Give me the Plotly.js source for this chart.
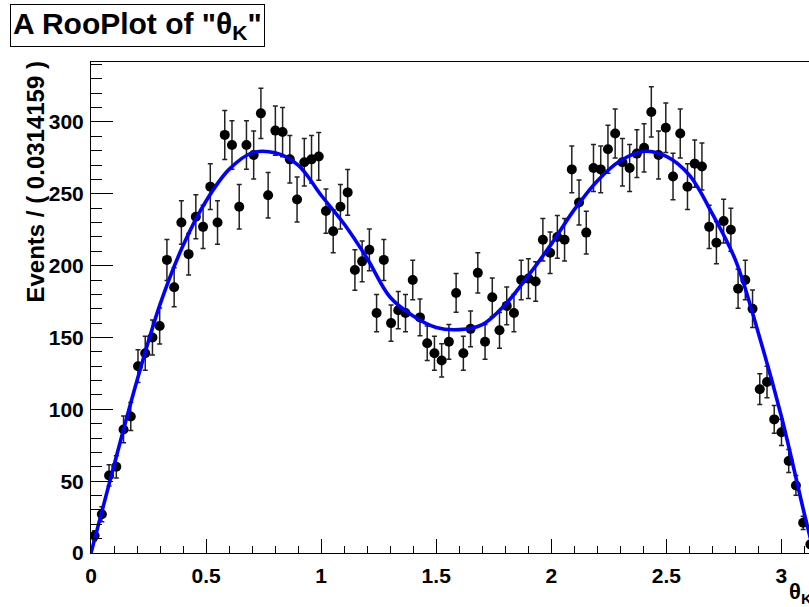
<!DOCTYPE html>
<html>
<head>
<meta charset="utf-8">
<script src="https://cdn.plot.ly/plotly-3.0.1.min.js"></script>
<style>
html, body { margin: 0; padding: 0; overflow: hidden; background: #fff; }
#chart { width: 824px; height: 607px; }
</style>
</head>
<body>
<div id="chart"></div>
<script>
// Histogram of theta_K: 100 bins on [0, pi]
const BIN_WIDTH = 0.0314159;
const counts = [
  12, 27, 54, 60, 86, 95, 130, 139, 150, 158,
  204, 185, 230, 208, 234, 227, 255, 230, 291, 284,
  241, 284, 277, 306, 249, 294, 293, 274, 246, 272,
  274, 276, 238, 224, 241, 251, 197, 203, 211, 167,
  204, 160, 169, 167, 190, 164, 146, 139, 134, 147,
  181, 139, 156, 195, 147, 178, 155, 172, 167, 190,
  191, 189, 218, 209, 220, 218, 267, 244, 223, 268,
  267, 281, 292, 272, 268, 278, 282, 307, 277, 296,
  262, 292, 255, 271, 269, 227, 216, 231, 225, 184,
  190, 170, 114, 119, 93, 84, 64, 47, 21, 6
];
const binCenters = counts.map((_, i) => (i + 0.5) * BIN_WIDTH);
const countErrors = counts.map(v => Math.sqrt(v));

// Fitted PDF curve
const curveX = [0, 0.1, 0.2, 0.3, 0.4, 0.5, 0.6, 0.7, 0.8, 0.9,
  1.0, 1.1, 1.2, 1.3, 1.4, 1.5, 1.6, 1.7, 1.8, 1.9,
  2.0, 2.1, 2.2, 2.3, 2.4, 2.5, 2.6, 2.7, 2.8, 2.9,
  3.0, 3.1, 3.14159];
const curveY = [0, 61, 120, 173, 214, 245, 267, 278.5, 278.5, 270,
  249, 229, 205, 178, 165, 157, 155.5, 159, 173, 193,
  215, 239, 259, 273, 279.5, 276, 263, 236, 204, 153,
  95, 27, 0];

const X_MAX = 3.14159;
const Y_MAX = 341.75;

const traces = [
  {
    x: binCenters, y: counts, type: 'scatter', mode: 'markers',
    marker: { color: '#000', size: 10 },
    error_y: { type: 'data', array: countErrors, visible: true, color: '#222', thickness: 1.5, width: 2.5 },
    hoverinfo: 'x+y', showlegend: false
  },
  {
    x: curveX, y: curveY, type: 'scatter', mode: 'lines',
    line: { color: '#0000ff', width: 3.6, shape: 'spline', smoothing: 1 },
    showlegend: false
  }
];

const FONT = 'Liberation Sans, Arial, Helvetica, sans-serif';
const tickFont = { family: FONT, size: 21, color: '#000', weight: 'bold' };

const layout = {
  width: 824, height: 607,
  margin: { l: 91, r: 10, t: 62, b: 54 },
  paper_bgcolor: '#fff', plot_bgcolor: '#fff',
  showlegend: false,
  xaxis: {
    range: [0, X_MAX], tick0: 0, dtick: 0.5,
    ticks: 'inside', ticklen: 14, tickwidth: 1, tickcolor: '#000',
    minor: { dtick: 0.1, ticks: 'inside', ticklen: 7, tickwidth: 1, tickcolor: '#000', showgrid: false },
    showline: true, linecolor: '#000', linewidth: 1, mirror: true,
    showgrid: false, zeroline: false,
    tickfont: tickFont, ticklabelstandoff: 4
  },
  yaxis: {
    range: [0, Y_MAX], tick0: 0, dtick: 50,
    ticks: 'inside', ticklen: 22, tickwidth: 1, tickcolor: '#000',
    minor: { dtick: 10, ticks: 'inside', ticklen: 11, tickwidth: 1, tickcolor: '#000', showgrid: false },
    showline: true, linecolor: '#000', linewidth: 1, mirror: true,
    showgrid: false, zeroline: false,
    tickfont: tickFont, ticklabelstandoff: 2
  },
  annotations: [
    {
      text: 'A RooPlot of "θ<sub>K</sub>"',
      xref: 'paper', yref: 'paper',
      x: (10 - 91) / 723, y: (553 - 4) / 491,
      xanchor: 'left', yanchor: 'top', showarrow: false,
      font: { family: FONT, size: 30, color: '#000', weight: 'bold' },
      bordercolor: '#000', borderwidth: 1, borderpad: 2, bgcolor: '#fff'
    },
    {
      text: 'Events / ( 0.0314159 )',
      xref: 'paper', yref: 'paper',
      x: (35 - 91) / 723, y: (553 - 60) / 491,
      xanchor: 'center', yanchor: 'top', textangle: -90, showarrow: false,
      font: { family: FONT, size: 24, color: '#000', weight: 'bold' }
    },
    {
      text: 'θ<sub>K</sub>',
      xref: 'x', yref: 'paper',
      x: X_MAX, y: (553 - 593) / 491,
      xanchor: 'right', yanchor: 'middle', showarrow: false,
      font: { family: FONT, size: 22, color: '#000', weight: 'bold' }
    }
  ]
};

Plotly.newPlot('chart', traces, layout, { displayModeBar: false, staticPlot: true });
</script>
</body>
</html>
